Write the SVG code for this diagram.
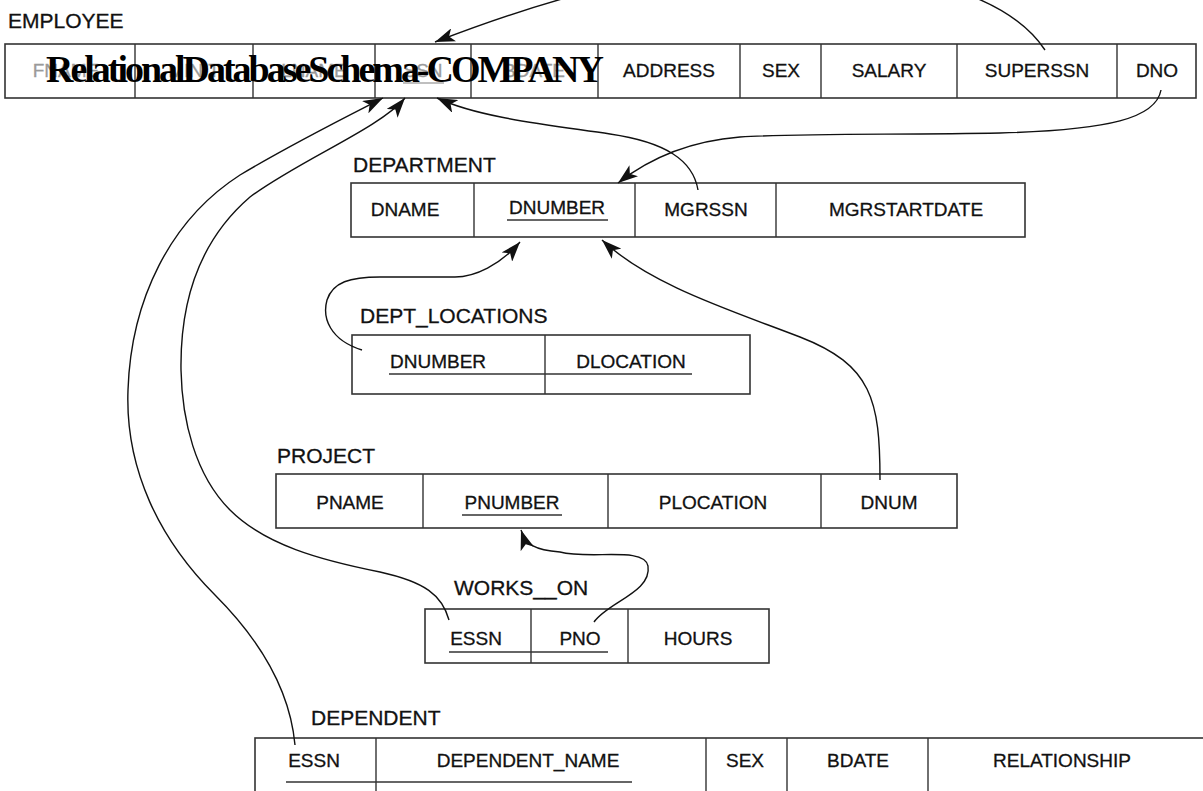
<svg xmlns="http://www.w3.org/2000/svg" width="1203" height="791" viewBox="0 0 1203 791">
<style>
.box{fill:#fff;stroke:#333;stroke-width:1.6}
.div{stroke:#333;stroke-width:1.4}
.lbl{font-family:"Liberation Sans",Arial,sans-serif;font-size:21px;fill:#111;stroke:#111;stroke-width:0.3}
.cell{font-family:"Liberation Sans",Arial,sans-serif;font-size:19px;fill:#111;stroke:#111;stroke-width:0.3;text-anchor:middle}
.faded{fill:#9a9a9a;stroke:#9a9a9a}
.ul{stroke:#333;stroke-width:1.4}
.ulf{stroke:#aaa;stroke-width:1.4}
.con{fill:none;stroke:#111;stroke-width:1.4}
.title{font-family:"Liberation Serif","Times New Roman",serif;font-weight:bold;font-size:38px;fill:#000}
</style>
<defs>
<marker id="arr" markerUnits="userSpaceOnUse" markerWidth="22" markerHeight="14" refX="20" refY="7" orient="auto">
<path d="M0,0 L20,7 L0,14 L5,7 z" fill="#111"/>
</marker>
</defs>
<rect width="1203" height="791" fill="#fff"/>

<g id="employee">
<text class="lbl" x="8" y="28">EMPLOYEE</text>
<rect class="box" x="5" y="44" width="1191" height="54"/>
<line class="div" x1="135" y1="44" x2="135" y2="98"/>
<line class="div" x1="253" y1="44" x2="253" y2="98"/>
<line class="div" x1="375" y1="44" x2="375" y2="98"/>
<line class="div" x1="471" y1="44" x2="471" y2="98"/>
<line class="div" x1="598" y1="44" x2="598" y2="98"/>
<line class="div" x1="740" y1="44" x2="740" y2="98"/>
<line class="div" x1="821" y1="44" x2="821" y2="98"/>
<line class="div" x1="957" y1="44" x2="957" y2="98"/>
<line class="div" x1="1117" y1="44" x2="1117" y2="98"/>
<text class="cell faded" x="66" y="77">FNAME</text>
<text class="cell faded" x="194" y="77">MINIT</text>
<text class="cell faded" x="314" y="77">LNAME</text>
<text class="cell faded" x="423" y="77">SSN</text>
<line class="ulf" x1="403" y1="83" x2="444" y2="83"/>
<text class="cell faded" x="534" y="77">BDATE</text>
<text class="cell" x="669" y="77">ADDRESS</text>
<text class="cell" x="781" y="77">SEX</text>
<text class="cell" x="889" y="77">SALARY</text>
<text class="cell" x="1037" y="77">SUPERSSN</text>
<text class="cell" x="1157" y="77">DNO</text>
</g>

<g id="department">
<text class="lbl" x="353" y="172">DEPARTMENT</text>
<rect class="box" x="351" y="183" width="674" height="54"/>
<line class="div" x1="474" y1="183" x2="474" y2="237"/>
<line class="div" x1="635" y1="183" x2="635" y2="237"/>
<line class="div" x1="776" y1="183" x2="776" y2="237"/>
<text class="cell" x="405" y="216">DNAME</text>
<text class="cell" x="557" y="214">DNUMBER</text>
<line class="ul" x1="507" y1="220" x2="608" y2="220"/>
<text class="cell" x="706" y="216">MGRSSN</text>
<text class="cell" x="906" y="216">MGRSTARTDATE</text>
</g>

<g id="dept_locations">
<text class="lbl" x="360" y="323">DEPT_LOCATIONS</text>
<rect class="box" x="352" y="335" width="398" height="59"/>
<line class="div" x1="545" y1="335" x2="545" y2="394"/>
<text class="cell" x="438" y="368">DNUMBER</text>
<text class="cell" x="631" y="368">DLOCATION</text>
<line class="ul" x1="389" y1="374" x2="692" y2="374"/>
</g>

<g id="project">
<text class="lbl" x="277" y="463">PROJECT</text>
<rect class="box" x="276" y="474" width="681" height="54"/>
<line class="div" x1="423" y1="474" x2="423" y2="528"/>
<line class="div" x1="608" y1="474" x2="608" y2="528"/>
<line class="div" x1="821" y1="474" x2="821" y2="528"/>
<text class="cell" x="350" y="509">PNAME</text>
<text class="cell" x="512" y="509">PNUMBER</text>
<line class="ul" x1="462" y1="515" x2="562" y2="515"/>
<text class="cell" x="713" y="509">PLOCATION</text>
<text class="cell" x="889" y="509">DNUM</text>
</g>

<g id="works_on">
<text class="lbl" x="454" y="595">WORKS__ON</text>
<rect class="box" x="425" y="609" width="344" height="54"/>
<line class="div" x1="531" y1="609" x2="531" y2="663"/>
<line class="div" x1="628" y1="609" x2="628" y2="663"/>
<text class="cell" x="476" y="645">ESSN</text>
<text class="cell" x="580" y="645">PNO</text>
<line class="ul" x1="449" y1="652" x2="608" y2="652"/>
<text class="cell" x="698" y="645">HOURS</text>
</g>

<g id="dependent">
<text class="lbl" x="311" y="725">DEPENDENT</text>
<rect class="box" x="255" y="738" width="960" height="70"/>
<line class="div" x1="376" y1="738" x2="376" y2="808"/>
<line class="div" x1="706" y1="738" x2="706" y2="808"/>
<line class="div" x1="787" y1="738" x2="787" y2="808"/>
<line class="div" x1="928" y1="738" x2="928" y2="808"/>
<text class="cell" x="314" y="767">ESSN</text>
<text class="cell" x="528" y="767">DEPENDENT_NAME</text>
<line class="ul" x1="286" y1="782" x2="632" y2="782"/>
<text class="cell" x="745" y="767">SEX</text>
<text class="cell" x="858" y="767">BDATE</text>
<text class="cell" x="1062" y="767">RELATIONSHIP</text>
</g>

<g id="connectors">
<path class="con" marker-end="url(#arr)" d="M1045,50 C1015,5 940,-30 790,-33 C680,-35 575,-12 435,42"/>
<path class="con" marker-end="url(#arr)" d="M1161,90 C1156,118 1110,130 1000,133 C900,135 800,133 740,137 C690,141 650,158 618,183"/>
<path class="con" marker-end="url(#arr)" d="M698,190 C693,160 665,142 610,134 C550,125 480,118 437,98"/>
<path class="con" marker-end="url(#arr)" d="M362,350 C330,340 322,318 327,300 C333,282 350,277 380,277 L455,277 C475,277 500,265 520,242"/>
<path class="con" marker-end="url(#arr)" d="M880,480 C880,400 872,365 800,337 C730,310 650,285 602,240"/>
<path class="con" marker-end="url(#arr)" d="M594,622 C608,602 652,592 648,566 C644,546 590,560 560,552 C535,550 526,545 521,530"/>
<path class="con" marker-end="url(#arr)" d="M449,620 C442,595 425,582 380,572 C320,560 265,545 230,510 C195,475 182,420 181,370 C180,300 200,240 250,197 C300,160 380,128 405,98"/>
<path class="con" marker-end="url(#arr)" d="M295,745 C290,690 260,640 215,595 C160,540 125,470 128,390 C131,300 170,220 240,175 C290,145 340,120 383,98"/>
</g>

<text class="title" x="46" y="82" textLength="558" lengthAdjust="spacing">RelationalDatabaseSchema-COMPANY</text>
</svg>
